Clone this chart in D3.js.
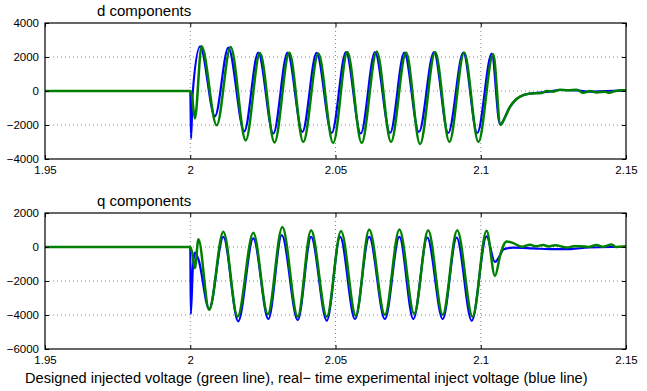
<!DOCTYPE html>
<html>
<head>
<meta charset="utf-8">
<script src="https://cdn.jsdelivr.net/npm/d3@7"></script>
<style>
  body { margin: 0; background: #fff; }
  text { font-family: "Liberation Sans", Arial, Helvetica, sans-serif; fill: #000; }
</style>
</head>
<body>
<div id="chart"></div>
<script>
// tick values
const xTicks = [1.95, 2, 2.05, 2.1, 2.15];
const dTicks = [-4000, -2000, 0, 2000, 4000];
const qTicks = [-6000, -4000, -2000, 0, 2000];

// d components: [time, value]
const dBlue = [
  [1.95, 0], [2.0, 0], [2.0003, -2800], [2.0008, -200], [2.0034, 2630], [2.0085, -1490],
  [2.0131, 2550], [2.0186, -2370], [2.0234, 2260], [2.0286, -2500], [2.0335, 2260],
  [2.0386, -2410], [2.0435, 2240], [2.0487, -2470], [2.0536, 2290], [2.0587, -2500],
  [2.0636, 2290], [2.0688, -2470], [2.0737, 2260], [2.0787, -2410], [2.0839, 2290],
  [2.0888, -2470], [2.094, 2260], [2.0988, -2470], [2.1038, 2200], [2.1066, -1950],
  [2.110, -950], [2.1135, -330], [2.117, -150], [2.1227, -60], [2.1273, 60],
  [2.133, 40], [2.1376, -40], [2.143, 0], [2.15, 20]
];
const dGreen = [
  [1.95, 0], [2.0, 0], [2.0005, -200], [2.0016, -1620], [2.0039, 2630], [2.0091, -2020],
  [2.0139, 2590], [2.0191, -2900], [2.024, 2240], [2.029, -3030], [2.0341, 2260],
  [2.0389, -3000], [2.0441, 2200], [2.0492, -3060], [2.0541, 2290], [2.059, -3060],
  [2.0642, 2330], [2.0691, -3000], [2.0743, 2260], [2.0791, -3130], [2.0843, 2290],
  [2.0892, -3000], [2.0943, 2260], [2.0992, -3000], [2.1043, 2160], [2.1068, -2000],
  [2.1085, -1500], [2.110, -950], [2.1135, -330], [2.117, -150], [2.121, -115],
  [2.1227, 0], [2.125, -40], [2.1273, 80], [2.130, 50], [2.133, 80], [2.1353, -110],
  [2.1376, 0], [2.1399, -90], [2.1428, -40], [2.1439, -110], [2.146, -20],
  [2.1479, 40], [2.15, 40]
];

// q components: [time, value]
const qBlue = [
  [1.95, 0], [2.0, 0], [2.0002, -3950], [2.0009, -1200], [2.0016, -330], [2.0028, -720],
  [2.0065, -3650], [2.0114, 590], [2.0165, -4370], [2.0217, 510], [2.0269, -4240],
  [2.0315, 700], [2.037, -4300], [2.0416, 590], [2.047, -4340], [2.0516, 590],
  [2.0567, -4240], [2.0616, 590], [2.067, -4240], [2.072, 590], [2.0768, -4240],
  [2.0816, 550], [2.0869, -4240], [2.0917, 550], [2.0969, -4340], [2.102, 620],
  [2.1049, -880], [2.1066, -500], [2.1078, -140], [2.1112, -40], [2.118, -80],
  [2.125, -130], [2.131, -120], [2.137, -30], [2.145, 0], [2.15, 0]
];
const qGreen = [
  [1.95, 0], [2.0, 0], [2.0006, -300], [2.0016, -1250], [2.0028, 450], [2.0065, -3700],
  [2.0114, 900], [2.0163, -4100], [2.0217, 840], [2.0267, -3950], [2.0317, 1170],
  [2.037, -4100], [2.0416, 980], [2.047, -4100], [2.0519, 940], [2.057, -4040],
  [2.0616, 1030], [2.067, -3990], [2.072, 1030], [2.0771, -3930], [2.0819, 980],
  [2.0869, -3990], [2.0919, 980], [2.0972, -4100], [2.102, 950], [2.1049, -1700],
  [2.1068, -400], [2.1089, 330], [2.1112, 230], [2.1141, 20], [2.117, 130],
  [2.119, 40], [2.1215, 120], [2.1235, 30], [2.1256, 110], [2.1296, -30],
  [2.132, 40], [2.1342, 50], [2.137, 0], [2.1399, 120], [2.142, 10],
  [2.1451, 150], [2.1465, 0], [2.1479, 20], [2.15, 50]
];

const width = 647;
const height = 391;
const left = 45;
const right = 626;

const svg = d3.select('#chart')
  .append('svg')
  .attr('width', width)
  .attr('height', height);

const x = d3.scaleLinear()
  .domain([1.95, 2.15])
  .range([left, right]);

function drawPanel(id, top, bottom, yTicks, title, blue, green) {
  const y = d3.scaleLinear()
    .domain([yTicks[0], yTicks[yTicks.length - 1]])
    .range([bottom, top]);

  const g = svg.append('g');

  // dotted grid
  g.selectAll('.vgrid')
    .data(xTicks.slice(1, -1))
    .enter()
    .append('line')
    .attr('x1', d => x(d)).attr('x2', d => x(d))
    .attr('y1', top).attr('y2', bottom)
    .attr('stroke', '#888')
    .attr('stroke-width', 1)
    .attr('stroke-dasharray', '1,3');
  g.selectAll('.hgrid')
    .data(yTicks.slice(1, -1))
    .enter()
    .append('line')
    .attr('x1', left).attr('x2', right)
    .attr('y1', d => y(d)).attr('y2', d => y(d))
    .attr('stroke', '#888')
    .attr('stroke-width', 1)
    .attr('stroke-dasharray', '1,3');

  // lines
  svg.append('clipPath')
    .attr('id', 'clip-' + id)
    .append('rect')
    .attr('x', left).attr('y', top)
    .attr('width', right - left).attr('height', bottom - top);

  const line = d3.line()
    .x(d => x(d[0]))
    .y(d => y(d[1]))
    .curve(d3.curveMonotoneX);

  g.append('path')
    .datum(blue)
    .attr('clip-path', 'url(#clip-' + id + ')')
    .attr('fill', 'none')
    .attr('stroke', '#0000ff')
    .attr('stroke-width', 2.2)
    .attr('d', line);
  g.append('path')
    .datum(green)
    .attr('clip-path', 'url(#clip-' + id + ')')
    .attr('fill', 'none')
    .attr('stroke', '#008000')
    .attr('stroke-width', 2.5)
    .attr('d', line);

  // axes with inward ticks on all four sides
  g.append('g')
    .attr('transform', 'translate(0,' + bottom + ')')
    .call(d3.axisBottom(x).tickValues(xTicks).tickSizeInner(-4).tickSizeOuter(0)
      .tickPadding(7).tickFormat(d => String(d)))
    .call(a => a.select('.domain').remove())
    .call(a => a.selectAll('text').attr('font-size', '11.5px'));
  g.append('g')
    .attr('transform', 'translate(0,' + top + ')')
    .call(d3.axisTop(x).tickValues(xTicks).tickSizeInner(-4).tickSizeOuter(0).tickFormat(''))
    .call(a => a.select('.domain').remove());
  g.append('g')
    .attr('transform', 'translate(' + left + ',0)')
    .call(d3.axisLeft(y).tickValues(yTicks).tickSizeInner(-4).tickSizeOuter(0)
      .tickPadding(6).tickFormat(d3.format('d')))
    .call(a => a.select('.domain').remove())
    .call(a => a.selectAll('text').attr('font-size', '11.5px'));
  g.append('g')
    .attr('transform', 'translate(' + right + ',0)')
    .call(d3.axisRight(y).tickValues(yTicks).tickSizeInner(-4).tickSizeOuter(0).tickFormat(''))
    .call(a => a.select('.domain').remove());

  g.selectAll('.tick line').attr('stroke', '#000');

  g.append('rect')
    .attr('x', left).attr('y', top)
    .attr('width', right - left).attr('height', bottom - top)
    .attr('fill', 'none')
    .attr('stroke', '#000')
    .attr('stroke-width', 1.2);

  g.append('text')
    .attr('x', 97)
    .attr('y', top - 7)
    .attr('font-size', '15px')
    .text(title);
}

drawPanel('d', 23, 159, dTicks, 'd components', dBlue, dGreen);
drawPanel('q', 213, 349, qTicks, 'q components', qBlue, qGreen);

svg.append('text')
  .attr('x', 25)
  .attr('y', 383)
  .attr('font-size', '14.6px')
  .text('Designed injected voltage (green line), real\u2212 time experimental inject voltage (blue line)');
</script>
</body>
</html>
